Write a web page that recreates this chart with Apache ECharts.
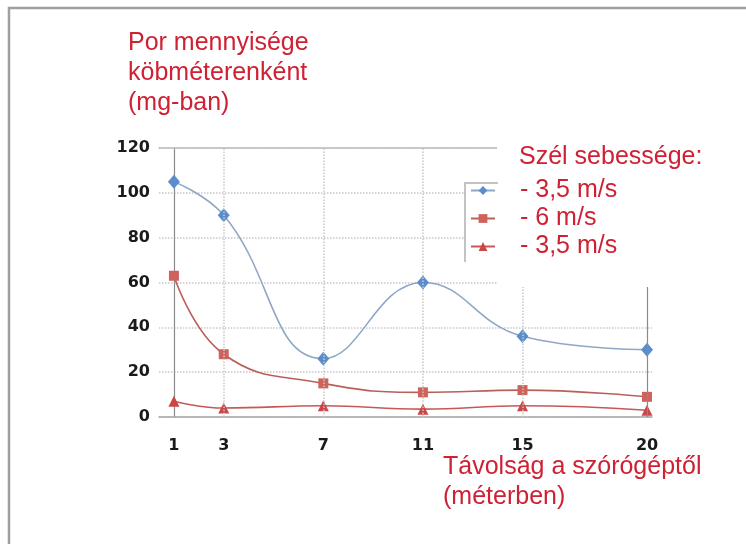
<!DOCTYPE html>
<html>
<head>
<meta charset="utf-8">
<script src="https://cdn.jsdelivr.net/npm/echarts@6/dist/echarts.min.js"></script>
<style>html,body{margin:0;padding:0;background:#fff;}#c{width:746px;height:544px;}</style>
</head>
<body>
<div id="c"></div>
<script>
var distances = [1, 3, 7, 11, 15, 20];
var xTickValues = [1, 3, 7, 11, 15, 20];
var yTickMin = 0, yTickMax = 120, yTickStep = 20;
var seriesNames = ['- 3,5 m/s', '- 6 m/s', '- 3,5 m/s '];
var blueDiamond = [105, 90, 26, 60, 36, 30];
var redSquare = [63, 28, 15, 11, 12, 9];
var redTriangle = [7, 4, 5, 3.5, 5, 3];
var dottedGridX = [3, 7, 11, 15];
var solidGridX = [20];
var titleLines = ['Por mennyisége', 'köbméterenként', '(mg-ban)'];
var xTitleLines = ['Távolság a szórógéptől', '(méterben)'];
var legendTitle = 'Szél sebessége:';

function pairs(vals) { return distances.map(function (d, i) { return [d, vals[i]]; }); }

var red = '#cf2134';
var chart = echarts.init(document.getElementById('c'));
var markLines = dottedGridX.map(function (v) {
  return { xAxis: v, lineStyle: { type: 'dotted', color: '#c8c8c8', width: 1.5 } };
}).concat(solidGridX.map(function (v) {
  return { xAxis: v, lineStyle: { type: 'solid', color: '#8a8a8a', width: 1.2 } };
}));

chart.setOption({
  animation: false,
  backgroundColor: '#fff',
  title: [
    { text: titleLines.join('\n'), left: 128, top: 28, padding: 0, z: 30,
      textStyle: { color: red, fontSize: 25, fontWeight: 'normal', fontFamily: 'Liberation Sans', lineHeight: 30 } },
    { text: xTitleLines.join('\n'), left: 443, top: 452, padding: 0, z: 30,
      textStyle: { color: red, fontSize: 25, fontWeight: 'normal', fontFamily: 'Liberation Sans', lineHeight: 30 } },
    { text: legendTitle, left: 519, top: 145, padding: 0, z: 30,
      textStyle: { color: red, fontSize: 25, fontWeight: 'normal', fontFamily: 'Liberation Sans', lineHeight: 25 } }
  ],
  legend: {
    orient: 'vertical', left: 470, top: 178, padding: 0, itemGap: 3, z: 30,
    itemWidth: 24, itemHeight: 11,
    data: seriesNames,
    textStyle: { color: red, fontSize: 25, fontFamily: 'Liberation Sans', lineHeight: 25, padding: [0, 0, 0, 20] }
  },
  grid: { left: 159, top: 148, width: 493, height: 269, containLabel: false },
  xAxis: [
    { type: 'value', min: 0.4, max: 20.2, position: 'bottom',
      axisLine: { show: true, lineStyle: { color: '#a8a8a8', width: 1.5 } },
      axisTick: { show: false },
      splitLine: { show: false },
      axisLabel: { customValues: xTickValues, margin: 21, color: '#1a1a1a', fontSize: 16, fontWeight: 'bold', fontFamily: 'DejaVu Sans' } },
    { type: 'value', min: 0.4, max: 20.2, position: 'top',
      axisLine: { show: true, lineStyle: { color: '#bdbdbd', width: 1.5 } },
      axisTick: { show: false }, axisLabel: { show: false }, splitLine: { show: false } }
  ],
  yAxis: {
    type: 'value', min: yTickMin, max: yTickMax, interval: yTickStep, offset: -15,
    axisLine: { show: true, lineStyle: { color: '#8a8a8a', width: 1.2 } },
    axisTick: { show: false },
    splitLine: { show: true, lineStyle: { type: 'dotted', color: '#c8c8c8', width: 1.5 } },
    axisLabel: { margin: 24, color: '#1a1a1a', fontSize: 16, fontWeight: 'bold', fontFamily: 'DejaVu Sans' }
  },
  series: [
    { name: seriesNames[0], type: 'line', smooth: 0.45, data: pairs(blueDiamond),
      symbol: 'diamond', symbolSize: [12, 14],
      lineStyle: { color: '#8fa7c6', width: 1.6 }, itemStyle: { color: '#5b8dcc' },
      markLine: { silent: true, symbol: 'none', label: { show: false }, data: markLines } },
    { name: seriesNames[1], type: 'line', smooth: 0.45, data: pairs(redSquare),
      symbol: 'rect', symbolSize: 10,
      lineStyle: { color: '#b9605a', width: 1.6 }, itemStyle: { color: '#d0625c' } },
    { name: seriesNames[2], type: 'line', smooth: 0.45, data: pairs(redTriangle),
      symbol: 'triangle', symbolSize: 11,
      lineStyle: { color: '#c65858', width: 1.6 }, itemStyle: { color: '#cc4646' } }
  ],
  graphic: {
    z: 20,
    elements: [
      { type: 'rect', z: 20, shape: { x: 497, y: 138, width: 249, height: 149 }, style: { fill: '#ffffff' } },
      { type: 'rect', z: 20, shape: { x: 466, y: 184, width: 33, height: 80 }, style: { fill: '#ffffff' } },
      { type: 'polyline', z: 21, shape: { points: [[465, 262], [465, 183], [498, 183]] }, style: { stroke: '#b0b0b0', lineWidth: 1.5, fill: null } },
      { type: 'polyline', z: 21, shape: { points: [[9, 544], [9, 8], [746, 8]] }, style: { stroke: '#a0a0a0', lineWidth: 2.5, fill: null } }
    ]
  }
});
</script>
</body>
</html>
